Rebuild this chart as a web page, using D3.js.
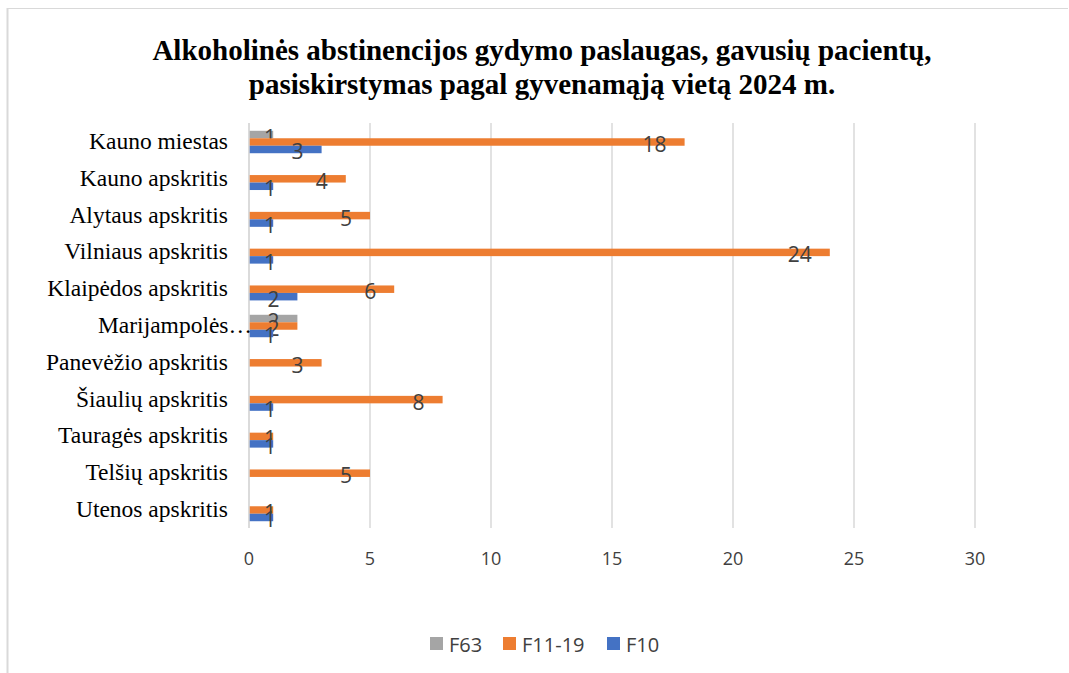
<!DOCTYPE html>
<html>
<head>
<meta charset="utf-8">
<script src="https://cdn.jsdelivr.net/npm/d3@7"></script>
<style>
  body { margin: 0; background: #fff; }
  svg { display: block; }
  .lbl { font-family: "Open Sans", "Liberation Sans", sans-serif; fill: #404040; }
</style>
</head>
<body>
<svg id="chart" width="1069" height="673"></svg>
<script>
const categories = [
  'Kauno miestas', 'Kauno apskritis', 'Alytaus apskritis', 'Vilniaus apskritis',
  'Klaipėdos apskritis', 'Marijampolės apskritis', 'Panevėžio apskritis',
  'Šiaulių apskritis', 'Tauragės apskritis', 'Telšių apskritis', 'Utenos apskritis'
];
const seriesNames = ['F63', 'F11-19', 'F10'];
const f63 = [1, null, null, null, null, 2, null, null, null, null, null];
const f1119 = [18, 4, 5, 24, 6, 2, 3, 8, 1, 5, 1];
const f10 = [3, 1, 1, 1, 2, 1, null, 1, 1, null, 1];
const xTicks = [0, 5, 10, 15, 20, 25, 30];
const colors = ['#a5a5a5', '#ed7d31', '#4472c4'];

function charts() {
  const svg = d3.select('#chart');
  const series = [f63, f1119, f10];

  // outer frame (only top and left visible in the original)
  svg.append('line').attr('x1', 7).attr('x2', 1068).attr('y1', 8.5).attr('y2', 8.5)
    .attr('stroke', '#d9d9d9').attr('stroke-width', 1.2);
  svg.append('line').attr('x1', 7.5).attr('x2', 7.5).attr('y1', 8).attr('y2', 673)
    .attr('stroke', '#d9d9d9').attr('stroke-width', 2);

  // title
  const title = svg.append('text')
    .attr('text-anchor', 'middle')
    .style('font-family', '"Liberation Serif", "Times New Roman", serif')
    .style('font-weight', 'bold')
    .style('font-size', '29px')
    .attr('fill', '#000');
  title.append('tspan').attr('x', 542).attr('y', 60)
    .text('Alkoholinės abstinencijos gydymo paslaugas, gavusių pacientų,');
  title.append('tspan').attr('x', 542).attr('y', 94)
    .text('pasiskirstymas pagal gyvenamąją vietą 2024 m.');

  const x = d3.scaleLinear().domain([0, 30]).range([249, 975]);
  const y = d3.scaleBand().domain(categories).range([123.6, 528.4]).paddingInner(0.39).paddingOuter(0.195);
  const inner = d3.scaleBand().domain(seriesNames).range([0, y.bandwidth()]);

  // gridlines
  svg.append('g').selectAll('line').data(xTicks).join('line')
    .attr('x1', d => x(d)).attr('x2', d => x(d))
    .attr('y1', 123).attr('y2', 528)
    .attr('stroke', '#d9d9d9').attr('stroke-width', 1.5);

  // bars
  series.forEach((vals, si) => {
    const rows = categories.map((c, i) => ({ c, v: vals[i] })).filter(d => d.v);
    const g = svg.append('g');
    g.selectAll('rect').data(rows).join('rect')
      .attr('x', x(0))
      .attr('y', d => y(d.c) + inner(seriesNames[si]))
      .attr('width', d => x(d.v) - x(0))
      .attr('height', inner.bandwidth())
      .attr('fill', colors[si]);
    g.selectAll('text').data(rows).join('text')
      .attr('class', 'lbl')
      .attr('text-anchor', 'end')
      .style('font-size', '21px')
      .attr('y', d => y(d.c) + inner(seriesNames[si]) + inner.bandwidth() / 2 + 10)
      .text(d => d.v)
      .attr('x', function (d) {
        const w = this.getComputedTextLength();
        return Math.max(x(d.v) - 18, x(0) + 21 + w / 2);
      });
  });

  // axis line at zero
  svg.append('line').attr('x1', x(0)).attr('x2', x(0)).attr('y1', 123).attr('y2', 528)
    .attr('stroke', '#d9d9d9').attr('stroke-width', 1.5);

  // x ticks
  svg.append('g').selectAll('text').data(xTicks).join('text')
    .attr('class', 'lbl')
    .attr('fill', '#595959')
    .attr('text-anchor', 'middle')
    .style('font-size', '18px')
    .attr('x', d => x(d)).attr('y', 565)
    .text(d => d);

  // category labels
  const catG = svg.append('g')
    .style('font-family', '"Liberation Serif", "Times New Roman", serif')
    .style('font-size', '23.5px');
  categories.forEach(c => {
    const t = catG.append('text')
      .attr('text-anchor', 'end')
      .attr('x', 228)
      .attr('y', y(c) + y.bandwidth() / 2 + 7)
      .attr('fill', '#000')
      .text(c);
    if (t.node().getComputedTextLength() > 200) {
      t.text(c.split(' ')[0] + '…').attr('x', 252);
    }
  });

  // legend
  const legend = [
    { name: 'F63', x: 430 },
    { name: 'F11-19', x: 503 },
    { name: 'F10', x: 607 }
  ];
  const lg = svg.append('g');
  legend.forEach((l, i) => {
    lg.append('rect').attr('x', l.x).attr('y', 637).attr('width', 13).attr('height', 13).attr('fill', colors[i]);
    lg.append('text').attr('class', 'lbl').attr('fill', '#595959')
      .style('font-size', '20px')
      .attr('x', l.x + 19).attr('y', 652).text(l.name);
  });
}

charts();
</script>
</body>
</html>
